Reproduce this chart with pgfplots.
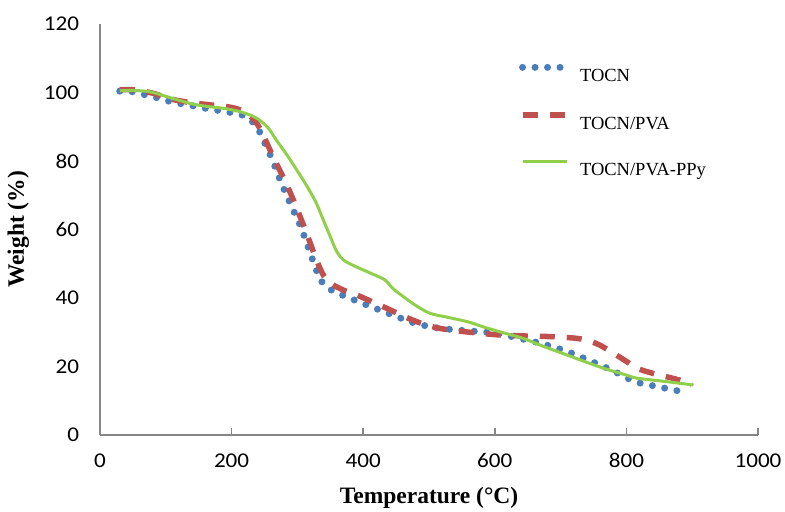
\documentclass[border=0pt]{standalone}
\usepackage{fontspec}
\setmainfont{Liberation Serif}
\newfontfamily\calfont[FakeStretch=1.1]{Carlito}
\usepackage{pgfplots}
\pgfplotsset{compat=1.18}
\definecolor{tocn}{HTML}{4A7EBB}
\definecolor{pva}{HTML}{C0504D}
\definecolor{ppy}{HTML}{8FCF4A}
\definecolor{axgray}{HTML}{868686}
\begin{document}
\begin{tikzpicture}
\begin{axis}[
  at={(0,0)}, anchor=south west,
  scale only axis, width=658pt, height=411pt,
  xmin=0, xmax=1000, ymin=0, ymax=120,
  axis x line=bottom, axis y line=left,
  axis line style={-, draw=axgray, line width=1.5pt},
  xtick={0,200,...,1000}, ytick={0,20,...,120},
  xtick style={draw=axgray, line width=1.5pt},
  major tick length=7pt,
  xtick align=inside,
  ytick style={draw=none},
  tick label style={font=\calfont\fontsize{21}{25}\selectfont},
  /pgf/number format/assume math mode=true,
  /pgf/number format/1000 sep={},
  xticklabel style={yshift=-15pt},
  yticklabel style={xshift=-14pt},
  xlabel={\bfseries Temperature (°C)},
  ylabel={\bfseries Weight (\%)},
  label style={font=\fontsize{23.5}{27}\selectfont},
  xlabel style={yshift=-12pt},
  ylabel style={yshift=8pt},
  legend style={draw=none, fill=none, at={(axis cs:632,109)}, anchor=north west,
    font=\fontsize{18.5}{22}\selectfont, row sep=27pt},
  legend cell align=left,
  legend image code/.code={\draw[#1] (0pt,9pt) -- (44pt,9pt);},
  legend style={nodes={inner xsep=10pt}},
]
\addplot[tocn, line width=7pt, line cap=round, dash pattern=on 0pt off 12.5pt, smooth, tension=0.5] coordinates {
(30,100.4) (50,100.2) (71,99.2) (90,98.3) (108,97.3) (130,96.5) (147,95.9) (165,95.2) (185,94.6) (205,93.9) (223,92.9) (236,90.5) (246,87.3) (253,84) (261,80.8) (274,74.3) (289,67.6) (304,61.3) (317,54.5) (329,48) (337,44.8) (350,42.5) (370,40.7) (405,38) (441,35.3) (476,32.8) (505,31.5) (534,30.8) (575,30.2) (600,29.8) (631,28.5) (669,26.8) (707,24.6) (742,21.9) (777,19) (813,15.6) (848,14.1) (886,12.6)
};
\addlegendentry{TOCN}
\addplot[pva, line width=5.5pt, dash pattern=on 15pt off 12pt, smooth, tension=0.5] coordinates {
(30,100.8) (50,100.8) (80,99.8) (110,98) (140,97) (167,96.4) (195,95.8) (213,94.9) (230,92.8) (243,89.5) (263,81.3) (284,73) (299,66.2) (314,58.9) (329,51.1) (340,46.5) (350,44.3) (370,42.3) (390,40.9) (430,37.5) (466,34.3) (490,32.5) (517,31.1) (562,30) (608,29.2) (648,28.9) (689,28.7) (720,28.3) (740,27.7) (760,26.2) (780,23.9) (800,21.5) (816,19.5) (840,18) (861,17) (885,15.8) (899,14.6)
};
\addlegendentry{TOCN/PVA}
\addplot[ppy, line width=3pt, smooth, tension=0.5] coordinates {
(30,100.5) (50,100.6) (76,100.2) (105,98.6) (137,96.8) (160,96) (187,95.4) (215,94.3) (238,92.5) (255,89.8) (268,86.1) (284,81.8) (299,77.4) (315,72.5) (329,67.6) (340,62.5) (350,57.9) (360,53.5) (370,51.1) (385,49.5) (400,48.2) (420,46.5) (433,45.3) (445,42.8) (461,40.4) (480,37.8) (502,35.5) (530,34.3) (560,33) (582,31.6) (610,30) (643,28.2) (675,25.8) (709,23.4) (740,21.2) (770,19.2) (800,17.5) (816,16.6) (860,15.6) (902,14.6)
};
\addlegendentry{TOCN/PVA-PPy}
\end{axis}
\path[use as bounding box] (-100pt,-76pt) rectangle (685pt,435pt);
\end{tikzpicture}
\end{document}
